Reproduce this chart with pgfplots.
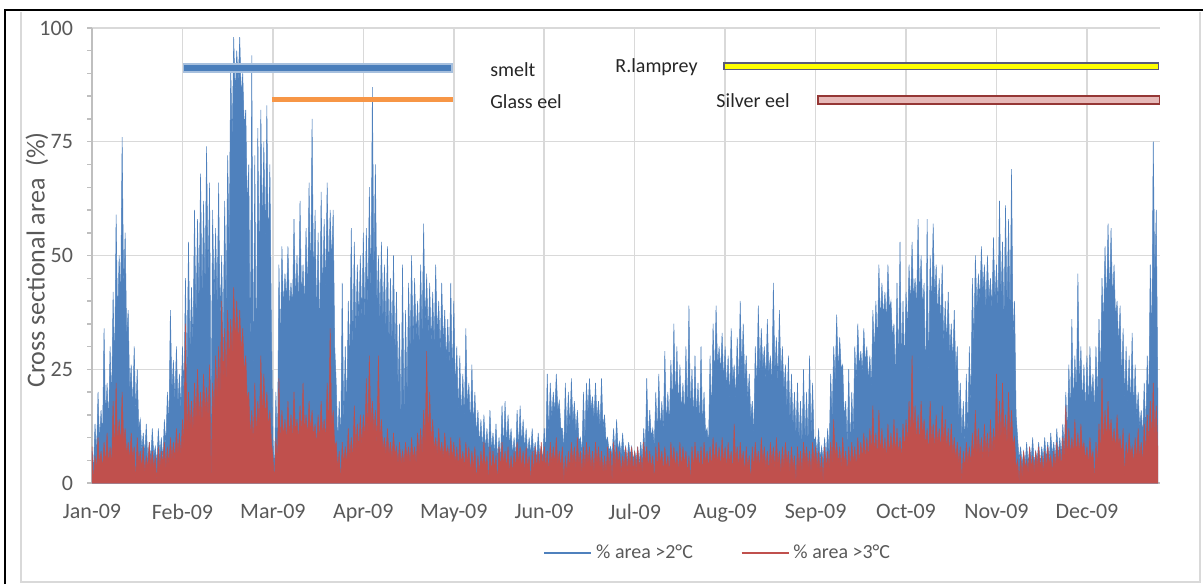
\documentclass[border=0pt]{standalone}
\usepackage{pgfplots}
\pgfplotsset{compat=1.18}
\usepackage{pgfplotstable}
\usepackage{fontspec}
\setmainfont{Carlito}
\definecolor{blueS}{HTML}{4F81BD}
\definecolor{redS}{HTML}{C0504D}
\definecolor{txt}{HTML}{595959}
\definecolor{lab}{HTML}{262626}
\definecolor{gridc}{HTML}{D9D9D9}
\definecolor{axc}{HTML}{BFBFBF}
\definecolor{smeltin}{HTML}{4A7EBB}
\definecolor{smeltout}{HTML}{A7C0DE}
\definecolor{glass}{HTML}{F79646}
\definecolor{lampborder}{HTML}{5A5A78}
\definecolor{lampfill}{HTML}{FFFF00}
\definecolor{silverin}{HTML}{E6B9B8}
\definecolor{silverout}{HTML}{953735}

% % area >2 C : peak / trough pairs, 30 pairs per month
\pgfplotstableread[row sep=\\]{
y\\
7\\3\\13\\6\\20\\9\\16\\10\\34\\14\\22\\13\\30\\17\\42\\24\\59\\35\\50\\40\\76\\42\\55\\32\\38\\20\\26\\16\\30\\15\\25\\12\\14\\7\\11\\6\\13\\5\\9\\5\\12\\6\\8\\4\\12\\6\\10\\5\\14\\8\\20\\12\\38\\20\\27\\18\\30\\17\\24\\16\\
30\\20\\45\\22\\53\\28\\43\\30\\60\\35\\58\\38\\68\\40\\62\\42\\74\\45\\66\\10\\60\\40\\56\\38\\66\\35\\50\\30\\62\\38\\72\\50\\92\\75\\98\\85\\95\\88\\98\\85\\90\\78\\82\\60\\70\\25\\94\\20\\72\\22\\78\\45\\82\\55\\75\\52\\83\\50\\70\\35\\
10\\2\\20\\6\\48\\30\\52\\38\\46\\40\\52\\38\\44\\38\\58\\40\\50\\38\\62\\40\\48\\38\\56\\40\\66\\42\\80\\42\\60\\35\\55\\30\\64\\40\\58\\42\\66\\45\\60\\48\\60\\30\\22\\8\\18\\8\\44\\12\\30\\15\\40\\25\\56\\28\\53\\32\\48\\35\\50\\35\\
55\\35\\56\\38\\65\\40\\87\\45\\70\\38\\50\\35\\53\\35\\48\\33\\52\\30\\45\\30\\50\\28\\42\\20\\35\\12\\48\\14\\38\\18\\44\\28\\50\\30\\45\\32\\40\\30\\48\\32\\57\\34\\46\\32\\44\\30\\42\\30\\48\\32\\40\\28\\44\\30\\38\\26\\36\\25\\44\\22\\
40\\20\\30\\15\\28\\14\\24\\13\\34\\16\\22\\12\\26\\12\\20\\10\\16\\8\\14\\7\\15\\7\\12\\6\\16\\7\\11\\6\\13\\5\\10\\5\\17\\7\\18\\8\\15\\8\\12\\6\\10\\5\\16\\7\\17\\8\\14\\7\\12\\6\\10\\6\\12\\6\\9\\5\\11\\6\\8\\5\\
12\\6\\24\\10\\22\\14\\20\\15\\24\\16\\18\\12\\12\\7\\22\\10\\20\\12\\23\\13\\18\\11\\16\\9\\10\\6\\20\\9\\22\\15\\23\\16\\19\\14\\22\\14\\18\\12\\23\\12\\15\\9\\10\\7\\8\\6\\12\\6\\14\\7\\9\\6\\11\\6\\8\\5\\9\\6\\8\\5\\
7\\5\\8\\4\\9\\5\\12\\6\\23\\9\\16\\10\\12\\8\\20\\10\\24\\11\\18\\11\\29\\12\\20\\12\\27\\16\\35\\17\\30\\16\\26\\15\\22\\14\\30\\14\\39\\15\\25\\13\\28\\14\\22\\12\\30\\12\\20\\11\\12\\8\\28\\14\\35\\22\\39\\25\\30\\24\\33\\22\\
30\\20\\28\\18\\34\\22\\26\\18\\32\\20\\40\\24\\35\\22\\28\\18\\24\\14\\18\\10\\30\\20\\39\\24\\34\\25\\30\\22\\36\\24\\28\\21\\44\\24\\32\\22\\38\\23\\30\\20\\26\\16\\28\\13\\24\\12\\20\\10\\22\\9\\18\\8\\25\\9\\20\\8\\28\\10\\22\\9\\
10\\6\\12\\5\\8\\5\\10\\5\\12\\6\\24\\14\\30\\22\\37\\24\\32\\25\\26\\14\\18\\8\\25\\7\\20\\10\\30\\22\\35\\25\\29\\24\\34\\26\\30\\22\\28\\20\\38\\28\\40\\30\\48\\35\\44\\36\\42\\35\\48\\38\\40\\32\\35\\22\\44\\24\\53\\26\\40\\25\\
42\\33\\48\\38\\53\\40\\45\\38\\58\\40\\50\\38\\44\\20\\58\\22\\50\\38\\57\\40\\48\\36\\45\\34\\48\\30\\40\\30\\42\\28\\35\\26\\38\\24\\30\\14\\22\\10\\18\\8\\24\\10\\30\\16\\45\\30\\50\\38\\46\\40\\52\\42\\48\\38\\50\\40\\45\\38\\54\\40\\
48\\38\\62\\40\\53\\35\\61\\38\\58\\36\\69\\32\\40\\15\\10\\5\\8\\4\\7\\4\\9\\4\\8\\5\\10\\4\\7\\5\\9\\4\\8\\5\\10\\5\\9\\5\\11\\6\\9\\5\\12\\6\\10\\6\\13\\7\\20\\10\\26\\14\\36\\16\\28\\18\\46\\20\\30\\17\\26\\15\\
28\\16\\30\\18\\24\\15\\30\\17\\36\\22\\45\\34\\52\\38\\57\\40\\56\\40\\48\\36\\40\\30\\39\\22\\34\\18\\30\\17\\28\\16\\33\\15\\26\\14\\20\\12\\16\\10\\22\\11\\28\\16\\48\\30\\75\\45\\60\\20\\
}\bluedata

% % area >3 C : peak / trough pairs, 30 pairs per month
\pgfplotstableread[row sep=\\]{
y\\
8\\0\\6\\3\\10\\4\\7\\3\\9\\4\\11\\4\\8\\4\\18\\6\\22\\8\\14\\8\\20\\9\\12\\6\\9\\5\\11\\5\\8\\0\\10\\4\\7\\3\\8\\2\\6\\3\\9\\3\\7\\3\\6\\0\\8\\3\\7\\4\\9\\3\\8\\4\\10\\5\\9\\5\\12\\6\\11\\6\\
14\\8\\35\\10\\20\\12\\18\\11\\22\\13\\25\\14\\20\\13\\24\\15\\21\\14\\26\\0\\22\\15\\28\\18\\30\\19\\40\\22\\34\\22\\38\\26\\36\\28\\43\\30\\40\\30\\38\\28\\34\\24\\28\\18\\20\\10\\16\\8\\22\\10\\18\\12\\28\\14\\24\\14\\20\\12\\16\\9\\
6\\0\\10\\4\\23\\8\\16\\10\\14\\9\\18\\10\\15\\9\\20\\11\\14\\9\\17\\10\\22\\11\\15\\10\\18\\11\\16\\10\\13\\8\\15\\9\\18\\10\\14\\9\\22\\11\\34\\12\\16\\8\\9\\3\\7\\0\\9\\4\\8\\4\\12\\5\\10\\5\\17\\7\\13\\7\\15\\8\\
15\\9\\23\\10\\28\\12\\18\\11\\16\\8\\28\\9\\14\\7\\10\\6\\12\\6\\9\\5\\11\\6\\8\\4\\9\\4\\7\\4\\9\\5\\8\\4\\10\\5\\8\\4\\11\\6\\12\\6\\16\\8\\29\\9\\20\\8\\14\\7\\10\\6\\12\\6\\9\\5\\11\\6\\8\\5\\10\\5\\
9\\4\\8\\3\\10\\4\\7\\3\\9\\4\\8\\2\\7\\3\\8\\0\\6\\2\\7\\3\\9\\3\\6\\0\\8\\2\\7\\3\\6\\0\\8\\3\\9\\4\\7\\3\\8\\2\\6\\2\\7\\3\\9\\4\\8\\3\\7\\2\\8\\3\\6\\0\\7\\2\\8\\3\\7\\3\\9\\3\\
8\\3\\7\\2\\9\\4\\8\\4\\10\\4\\7\\3\\8\\0\\6\\2\\7\\3\\9\\4\\8\\3\\10\\4\\7\\2\\8\\3\\9\\4\\8\\3\\7\\2\\9\\4\\8\\3\\7\\2\\6\\2\\8\\3\\7\\0\\9\\3\\8\\4\\7\\2\\6\\3\\8\\2\\7\\3\\8\\2\\
7\\2\\8\\3\\6\\2\\9\\4\\8\\3\\7\\3\\6\\0\\8\\3\\9\\4\\7\\2\\8\\3\\6\\2\\9\\4\\8\\3\\7\\2\\9\\3\\8\\4\\7\\2\\6\\0\\8\\3\\9\\4\\7\\3\\8\\2\\9\\4\\7\\3\\8\\3\\10\\4\\9\\4\\8\\3\\10\\4\\
8\\3\\9\\4\\7\\2\\13\\4\\8\\3\\9\\4\\7\\2\\8\\3\\6\\0\\8\\3\\9\\4\\7\\3\\10\\4\\8\\3\\7\\2\\9\\4\\8\\3\\10\\4\\7\\2\\8\\3\\9\\4\\7\\2\\8\\3\\6\\0\\8\\3\\7\\2\\9\\4\\8\\3\\7\\2\\9\\4\\
8\\3\\7\\2\\6\\0\\8\\3\\7\\3\\9\\4\\14\\5\\9\\4\\8\\3\\10\\4\\7\\2\\8\\3\\9\\4\\8\\3\\10\\4\\9\\5\\11\\5\\10\\5\\12\\6\\17\\6\\11\\5\\16\\6\\12\\6\\10\\5\\13\\6\\11\\6\\14\\6\\12\\6\\10\\5\\13\\7\\
14\\8\\18\\9\\28\\10\\17\\9\\15\\8\\18\\10\\14\\8\\12\\6\\18\\8\\13\\7\\15\\8\\12\\7\\17\\8\\14\\7\\12\\6\\13\\6\\10\\5\\9\\4\\8\\0\\7\\3\\9\\4\\8\\4\\11\\5\\16\\6\\12\\6\\10\\5\\13\\6\\11\\5\\14\\6\\12\\7\\
24\\8\\18\\9\\22\\10\\15\\8\\20\\9\\16\\8\\10\\3\\5\\0\\6\\1\\7\\3\\5\\2\\8\\3\\6\\2\\7\\3\\8\\3\\6\\2\\7\\3\\8\\4\\6\\2\\7\\3\\9\\4\\8\\3\\10\\4\\17\\5\\12\\6\\10\\6\\14\\6\\11\\6\\13\\7\\9\\5\\
8\\4\\10\\5\\7\\0\\9\\4\\13\\6\\23\\8\\16\\9\\18\\10\\14\\8\\12\\7\\15\\8\\10\\6\\12\\1\\9\\5\\11\\6\\8\\4\\10\\5\\12\\5\\9\\4\\13\\6\\15\\8\\18\\9\\22\\10\\17\\8\\
}\reddata

\begin{document}
\begin{tikzpicture}
\useasboundingbox (0pt,0pt) rectangle (601.5pt,292pt);
\begin{axis}[
  at={(46pt,50.5pt)}, anchor=south west,
  scale only axis, width=534pt, height=227.5pt,
  xmin=0, xmax=11.808, ymin=0, ymax=100,
  clip=false,
  axis x line*=bottom, axis y line*=left,
  axis line style={draw=axc, line width=0.75pt, -},
  xtick={0,...,11},
  xticklabels={Jan-09,Feb-09,Mar-09,Apr-09,May-09,Jun-09,Jul-09,Aug-09,Sep-09,Oct-09,Nov-09,Dec-09},
  x tick style={draw=none},
  ytick={0,25,50,75,100}, minor y tick num=4,
  y tick style={draw=axc, line width=0.75pt},
  tick align=outside, major tick length=2.5pt, minor tick length=2.5pt,
  xmajorgrids, ymajorgrids,
  major grid style={draw=gridc, line width=0.75pt},
  tick label style={font=\fontsize{11}{13}\selectfont, text=txt},
  xticklabel style={yshift=-4.5pt},
  yticklabel style={xshift=-3.5pt},
  /pgf/number format/assume math mode=true,
  ylabel={Cross sectional area~ (\%)},
  ylabel style={at={(axis description cs:-0.0515,0.49)}, anchor=center, font=\fontsize{13}{15}\selectfont, text=txt},
  legend style={at={(axis description cs:0.587,-0.154)}, anchor=center, draw=none, fill=none,
    font=\fontsize{10}{12}\selectfont, text=txt, legend columns=2,
    /tikz/every even column/.append style={column sep=22pt}},
  legend cell align=left,
  legend image code/.code={\draw[#1] (0pt,0pt) -- (23.5pt,0pt);},
]
\addplot[draw=blueS, fill=blueS, line width=0.25pt, forget plot]
  table[x expr=\coordindex/60, y=y] {\bluedata} \closedcycle;
\addplot[draw=redS, fill=redS, line width=0.25pt, forget plot]
  table[x expr=\coordindex/60, y=y] {\reddata} \closedcycle;

% species periods
\addplot[smeltout, line width=5pt, forget plot] coordinates {(1.006,91.2) (3.99,91.2)};
\addplot[smeltin, line width=2.8pt, forget plot] coordinates {(1.022,91.2) (3.974,91.2)};
\addplot[glass, line width=2.5pt, forget plot] coordinates {(1.99,84.2) (3.99,84.2)};
\addplot[lampborder, line width=4pt, forget plot] coordinates {(6.98,91.6) (11.80,91.6)};
\addplot[lampfill, line width=2.4pt, forget plot] coordinates {(6.995,91.6) (11.785,91.6)};
\addplot[silverout, line width=5pt, forget plot] coordinates {(8.02,84.2) (11.81,84.2)};
\addplot[silverin, line width=3pt, forget plot] coordinates {(8.037,84.2) (11.793,84.2)};

\node[anchor=west, inner sep=0pt, text=lab, font=\fontsize{10}{12}\selectfont] at (axis cs:4.40,90.8) {smelt};
\node[anchor=west, inner sep=0pt, text=lab, font=\fontsize{10}{12}\selectfont] at (axis cs:4.40,83.8) {Glass eel};
\node[anchor=west, inner sep=0pt, text=lab, font=\fontsize{10}{12}\selectfont] at (axis cs:5.782,91.4) {R.lamprey};
\node[anchor=west, inner sep=0pt, text=lab, font=\fontsize{10}{12}\selectfont] at (axis cs:6.90,84.0) {Silver eel};

\addlegendimage{draw=blueS, line width=0.75pt}
\addlegendentry{\% area >2°C}
\addlegendimage{draw=redS, line width=0.75pt}
\addlegendentry{\% area >3°C}
\end{axis}
\draw[black, line width=1pt] (2.5pt,0pt) -- (2.5pt,287pt) -- (601.5pt,287pt);
\draw[gridc, line width=0.6pt] (10.5pt,286pt) -- (10.5pt,1pt) -- (600pt,1pt) -- (600pt,286pt);
\end{tikzpicture}
\end{document}
